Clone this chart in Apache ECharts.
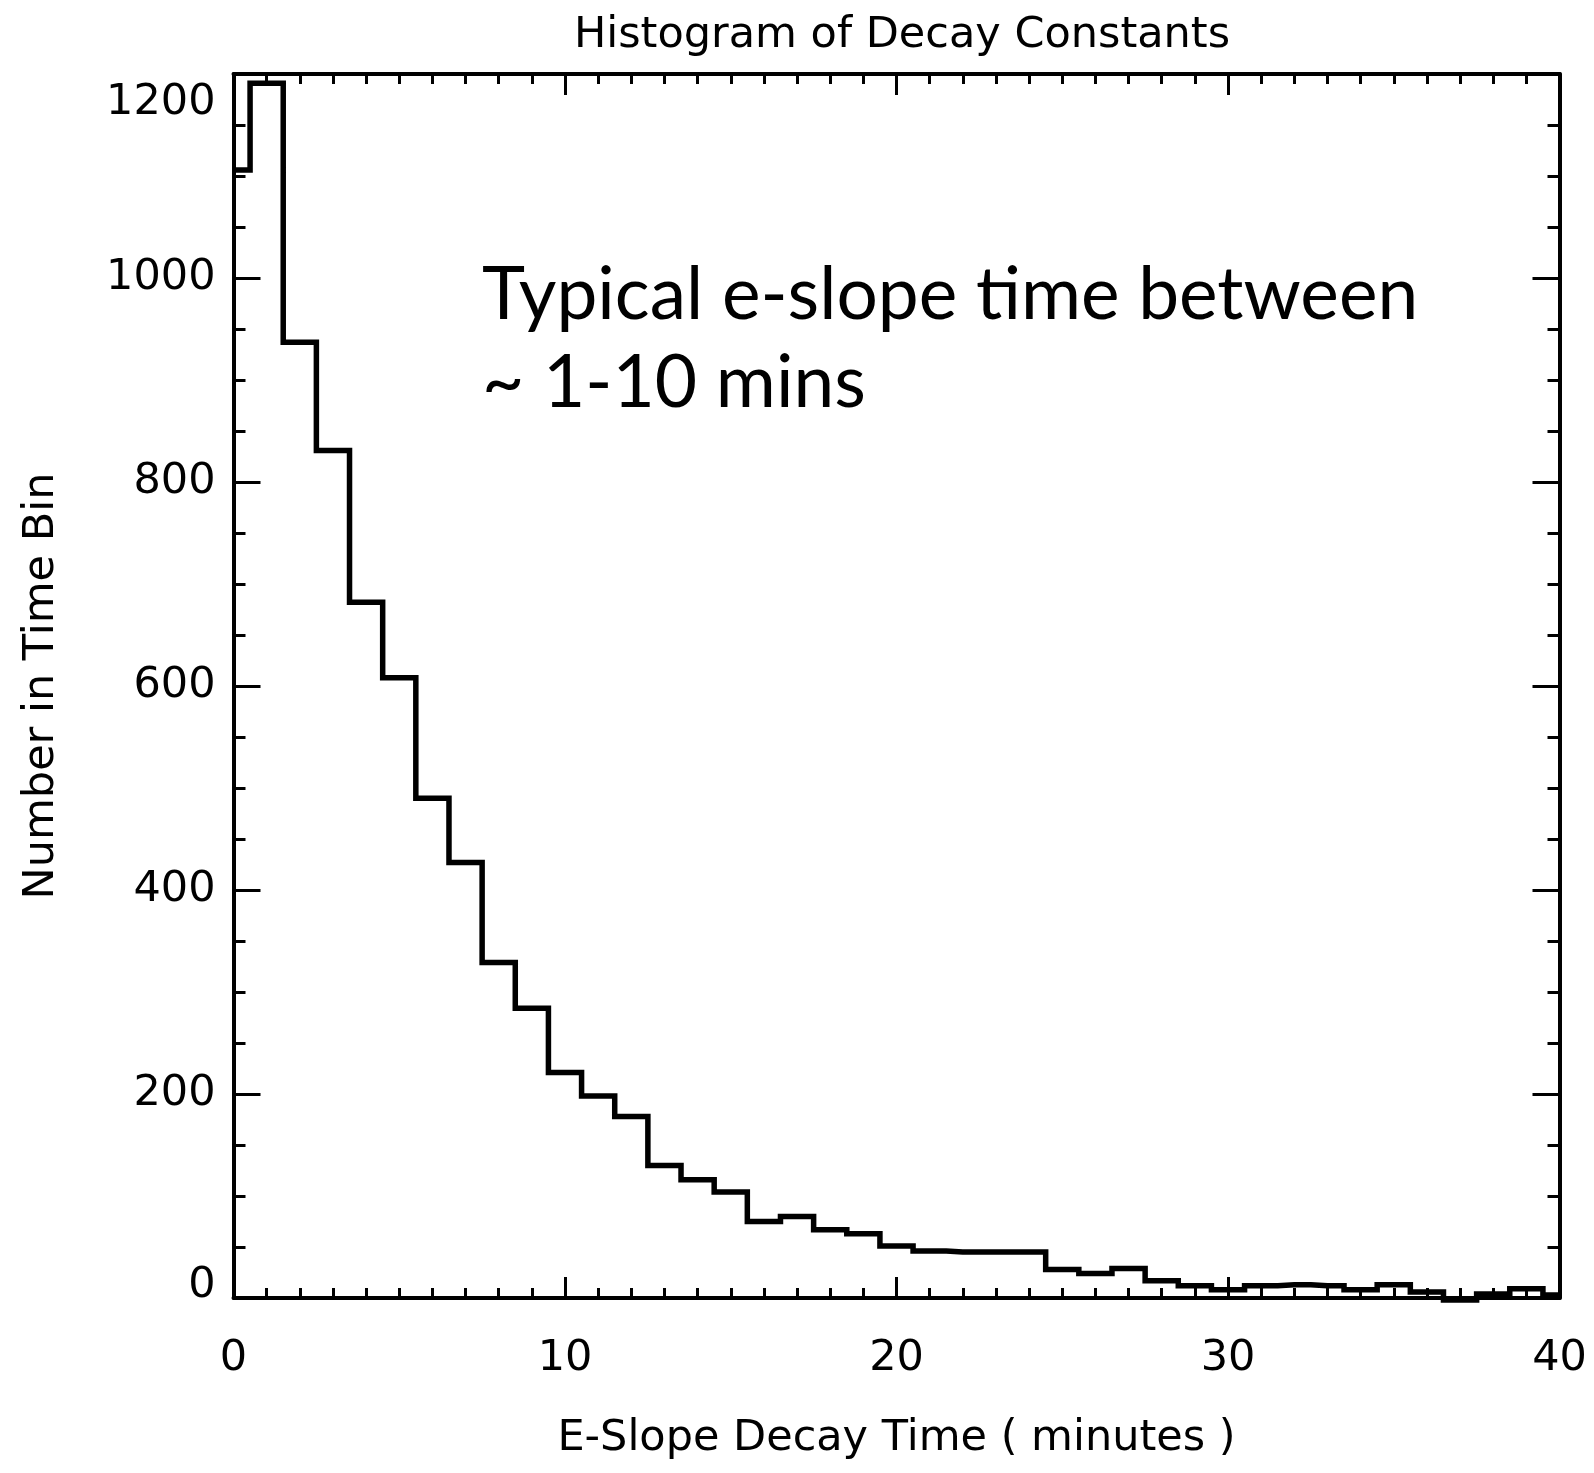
<!DOCTYPE html>
<html>
<head>
<meta charset="utf-8">
<script src="https://cdn.jsdelivr.net/npm/echarts@6/dist/echarts.min.js"></script>
<style>
html,body{margin:0;padding:0;background:#ffffff;}
#chart{width:1594px;height:1473px;}
</style>
</head>
<body>
<div id="chart"></div>
<script>
// ---- data ----
const decayTimes = [0,1,2,3,4,5,6,7,8,9,10,11,12,13,14,15,16,17,18,19,20,
                    21,22,23,24,25,26,27,28,29,30,31,32,33,34,35,36,37,38,39,40];
const binCounts  = [1106,1191,937,831,682,608,490,427,329,284,221,198,178,130,116,104,75,80,67,63,51,
                    46,45,45,45,28,24,29,17,12,8,12,13,12,8,13,6,-2,4,9,3];
const xTickValues = [0,10,20,30,40];
const yTickValues = [0,200,400,600,800,1000,1200];
const titleText = 'Histogram of Decay Constants';
const xAxisTitle = 'E-Slope Decay Time ( minutes )';
const yAxisTitle = 'Number in Time Bin';
const noteLines = ['Typical e-slope time between', '~ 1-10 mins'];

// ---- chart ----
const FONT = 'DejaVu Sans';
const chart = echarts.init(document.getElementById('chart'), null, {renderer:'canvas'});

const xMin = xTickValues[0], xMax = xTickValues[xTickValues.length-1];
const xInt = xTickValues[1]-xTickValues[0];
const yMin = yTickValues[0], yMax = yTickValues[yTickValues.length-1];
const yInt = yTickValues[1]-yTickValues[0];

function xAxisCfg(pos, showLabels){
  return {
    type:'value', position:pos, min:xMin, max:xMax, interval:xInt,
    name: showLabels ? xAxisTitle : '',
    nameLocation:'middle', nameGap:119,
    nameTextStyle:{fontFamily:FONT, fontSize:43, color:'#000'},
    axisLine:{show:true, onZero:false, lineStyle:{color:'#000', width:4}},
    axisTick:{show:true, inside:true, length:21, lineStyle:{color:'#000', width:3}},
    minorTick:{show:true, splitNumber:10, length:10, lineStyle:{color:'#000', width:3}},
    splitLine:{show:false}, minorSplitLine:{show:false},
    axisLabel:{show:showLabels, margin:39, color:'#000', fontFamily:FONT, fontSize:43}
  };
}
function yAxisCfg(pos, showLabels){
  return {
    type:'value', position:pos, min:yMin, max:yMax, interval:yInt,
    name: showLabels ? yAxisTitle : '',
    nameLocation:'middle', nameGap:170, nameRotate:90,
    nameTextStyle:{fontFamily:FONT, fontSize:43, color:'#000'},
    axisLine:{show:true, onZero:false, lineStyle:{color:'#000', width:4}},
    axisTick:{show:true, inside:true, length:27, lineStyle:{color:'#000', width:3}},
    minorTick:{show:true, splitNumber:4, length:12, lineStyle:{color:'#000', width:3}},
    splitLine:{show:false}, minorSplitLine:{show:false},
    axisLabel:{
      show:showLabels, margin:18, color:'#000', fontFamily:FONT, fontSize:43,
      formatter: function(v){
        if (v === yMin) return '{lo|' + v + '}\n{lop| }';
        if (v === yMax) return '{hip| }\n{hi|' + v + '}';
        return '{n|' + v + '}';
      },
      rich:{
        n:{fontFamily:FONT, fontSize:43, color:'#000'},
        lo:{fontFamily:FONT, fontSize:43, color:'#000', lineHeight:24},
        lop:{fontFamily:FONT, fontSize:43, lineHeight:24},
        hi:{fontFamily:FONT, fontSize:43, color:'#000', lineHeight:58},
        hip:{fontFamily:FONT, fontSize:43, lineHeight:58}
      }
    }
  };
}

const option = {
  backgroundColor:'#ffffff',
  animation:false,
  title:{
    text:titleText, left:897, top:9, textAlign:'center',
    textStyle:{fontFamily:FONT, fontSize:43, fontWeight:'normal', color:'#000'}
  },
  grid:{left:233.5, right:34.5, top:74, bottom:175, containLabel:false},
  xAxis:[xAxisCfg('bottom', true), xAxisCfg('top', false)],
  yAxis:[yAxisCfg('left', true), yAxisCfg('right', false)],
  graphic:[
    {type:'text', left:482, top:259, z:10,
     style:{text:noteLines[0], font:'73px Lato', fill:'#000'}},
    {type:'text', left:482, top:347, z:10,
     style:{text:noteLines[1], font:'73px Lato', fill:'#000'}}
  ],
  series:[{
    type:'line', xAxisIndex:0, yAxisIndex:0, step:'middle',
    data: decayTimes.map((t,i)=>[t, binCounts[i]]),
    showSymbol:false, symbol:'none', clip:false,
    lineStyle:{color:'#000', width:5.5, join:'miter', cap:'butt'}
  }]
};
chart.setOption(option);
</script>
</body>
</html>
